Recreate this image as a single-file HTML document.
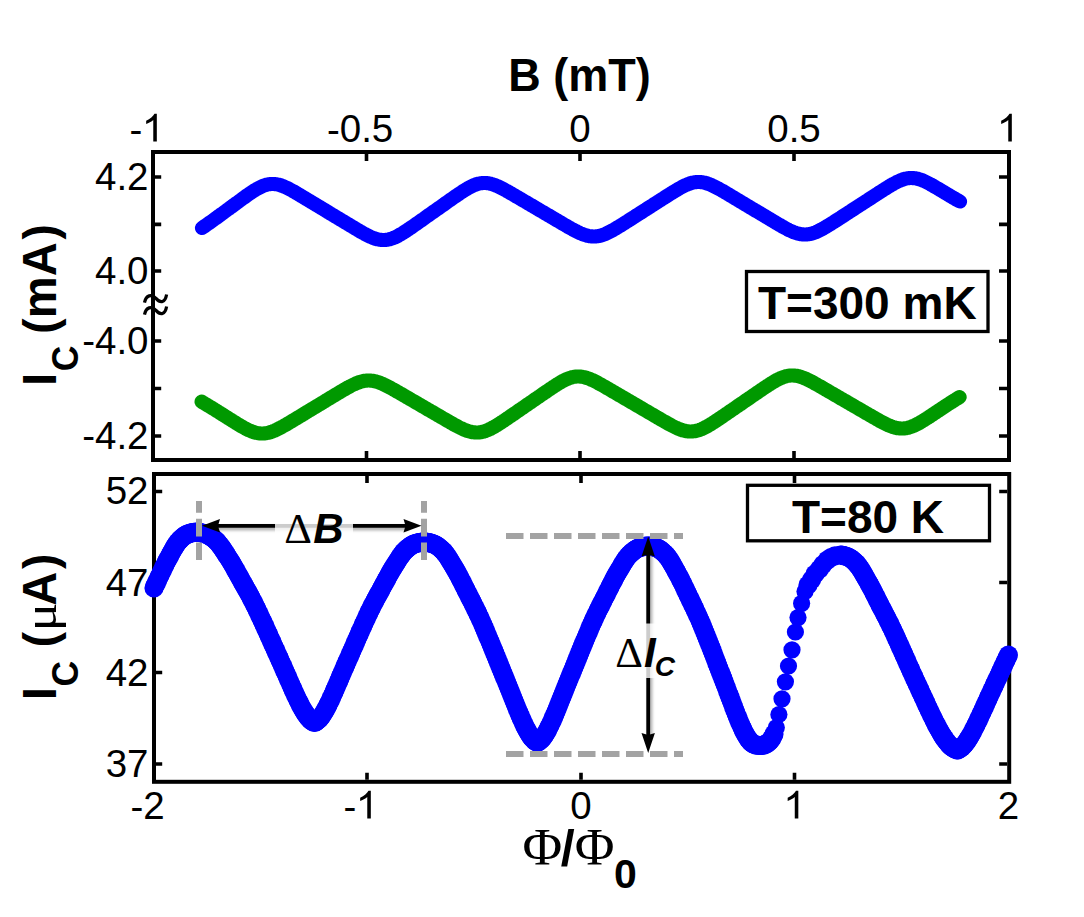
<!DOCTYPE html><html><head><meta charset="utf-8"><title>SQUID Ic</title>
<style>html,body{margin:0;padding:0;background:#fff}body{width:1084px;height:917px;overflow:hidden}svg{display:block}text{font-family:"Liberation Sans",sans-serif;fill:#000}.s{font-family:"Liberation Serif",serif}.b{font-weight:bold}.bi{font-weight:bold;font-style:italic}</style>
</head><body>
<svg width="1084" height="917" viewBox="0 0 1084 917">
<defs><filter id="sh" x="-20%" y="-50%" width="140%" height="200%"><feGaussianBlur stdDeviation="1.2"/></filter><filter id="sh2" filterUnits="userSpaceOnUse" x="180" y="510" width="270" height="40"><feGaussianBlur stdDeviation="1.5"/></filter><filter id="sh3" filterUnits="userSpaceOnUse" x="630" y="520" width="40" height="250"><feGaussianBlur stdDeviation="1.5"/></filter></defs>
<rect width="1084" height="917" fill="#fff"/>
<polyline points="202.0,228.0 203.0,227.3 204.0,226.6 205.0,225.9 206.0,225.2 207.0,224.5 208.0,223.8 209.0,223.1 210.0,222.4 211.0,221.7 212.0,221.0 213.0,220.3 214.0,219.5 215.0,218.8 216.0,218.1 217.0,217.4 218.0,216.6 219.0,215.9 220.0,215.2 221.0,214.4 222.0,213.7 223.0,213.0 224.0,212.2 225.0,211.5 226.0,210.8 227.0,210.0 228.0,209.3 229.0,208.6 230.0,207.8 231.0,207.1 232.0,206.4 233.0,205.6 234.0,204.9 235.0,204.2 236.0,203.4 237.0,202.7 238.0,202.0 239.0,201.2 240.0,200.5 241.0,199.8 242.0,199.0 243.0,198.3 244.0,197.6 245.0,196.9 246.0,196.1 247.0,195.4 248.0,194.7 249.0,194.0 250.0,193.3 251.0,192.7 252.0,192.0 253.0,191.3 254.0,190.7 255.0,190.1 256.0,189.5 257.0,188.9 258.0,188.3 259.0,187.8 260.0,187.3 261.0,186.8 262.0,186.3 263.0,185.9 264.0,185.5 265.0,185.2 266.0,184.9 267.0,184.6 268.0,184.4 269.0,184.2 270.0,184.1 271.0,184.0 272.0,184.0 273.0,184.0 274.0,184.0 275.0,184.1 276.0,184.2 277.0,184.4 278.0,184.6 279.0,184.8 280.0,185.1 281.0,185.4 282.0,185.8 283.0,186.2 284.0,186.6 285.0,187.0 286.0,187.5 287.0,187.9 288.0,188.4 289.0,188.9 290.0,189.5 291.0,190.0 292.0,190.5 293.0,191.1 294.0,191.7 295.0,192.2 296.0,192.8 297.0,193.4 298.0,194.0 299.0,194.6 300.0,195.2 301.0,195.8 302.0,196.4 303.0,197.0 304.0,197.6 305.0,198.2 306.0,198.8 307.0,199.4 308.0,200.0 309.0,200.6 310.0,201.2 311.0,201.8 312.0,202.4 313.0,203.0 314.0,203.6 315.0,204.2 316.0,204.8 317.0,205.4 318.0,206.0 319.0,206.6 320.0,207.2 321.0,207.8 322.0,208.4 323.0,209.0 324.0,209.6 325.0,210.2 326.0,210.8 327.0,211.4 328.0,212.1 329.0,212.7 330.0,213.3 331.0,213.9 332.0,214.5 333.0,215.1 334.0,215.7 335.0,216.3 336.0,216.9 337.0,217.5 338.0,218.1 339.0,218.7 340.0,219.3 341.0,219.9 342.0,220.5 343.0,221.1 344.0,221.7 345.0,222.3 346.0,222.9 347.0,223.5 348.0,224.1 349.0,224.7 350.0,225.3 351.0,225.9 352.0,226.5 353.0,227.1 354.0,227.7 355.0,228.3 356.0,228.9 357.0,229.5 358.0,230.1 359.0,230.7 360.0,231.3 361.0,231.9 362.0,232.4 363.0,233.0 364.0,233.5 365.0,234.1 366.0,234.6 367.0,235.1 368.0,235.6 369.0,236.1 370.0,236.6 371.0,237.0 372.0,237.5 373.0,237.9 374.0,238.2 375.0,238.6 376.0,238.9 377.0,239.2 378.0,239.4 379.0,239.6 380.0,239.8 381.0,239.9 382.0,240.0 383.0,240.0 384.0,240.0 385.0,240.0 386.0,239.9 387.0,239.8 388.0,239.6 389.0,239.4 390.0,239.1 391.0,238.8 392.0,238.5 393.0,238.1 394.0,237.7 395.0,237.3 396.0,236.8 397.0,236.3 398.0,235.8 399.0,235.2 400.0,234.7 401.0,234.1 402.0,233.5 403.0,232.9 404.0,232.2 405.0,231.6 406.0,230.9 407.0,230.3 408.0,229.6 409.0,228.9 410.0,228.2 411.0,227.6 412.0,226.9 413.0,226.2 414.0,225.5 415.0,224.8 416.0,224.1 417.0,223.4 418.0,222.7 419.0,222.0 420.0,221.3 421.0,220.6 422.0,219.9 423.0,219.2 424.0,218.5 425.0,217.7 426.0,217.0 427.0,216.3 428.0,215.6 429.0,214.9 430.0,214.2 431.0,213.5 432.0,212.8 433.0,212.1 434.0,211.4 435.0,210.7 436.0,210.0 437.0,209.3 438.0,208.6 439.0,207.9 440.0,207.2 441.0,206.5 442.0,205.8 443.0,205.1 444.0,204.4 445.0,203.6 446.0,202.9 447.0,202.2 448.0,201.5 449.0,200.8 450.0,200.1 451.0,199.4 452.0,198.7 453.0,198.0 454.0,197.3 455.0,196.6 456.0,195.9 457.0,195.3 458.0,194.6 459.0,193.9 460.0,193.2 461.0,192.5 462.0,191.9 463.0,191.2 464.0,190.6 465.0,190.0 466.0,189.4 467.0,188.8 468.0,188.2 469.0,187.6 470.0,187.1 471.0,186.6 472.0,186.1 473.0,185.6 474.0,185.2 475.0,184.8 476.0,184.4 477.0,184.1 478.0,183.8 479.0,183.6 480.0,183.4 481.0,183.2 482.0,183.1 483.0,183.0 484.0,183.0 485.0,183.0 486.0,183.0 487.0,183.1 488.0,183.2 489.0,183.4 490.0,183.6 491.0,183.9 492.0,184.1 493.0,184.5 494.0,184.8 495.0,185.2 496.0,185.6 497.0,186.0 498.0,186.4 499.0,186.9 500.0,187.4 501.0,187.9 502.0,188.4 503.0,188.9 504.0,189.4 505.0,190.0 506.0,190.5 507.0,191.1 508.0,191.6 509.0,192.2 510.0,192.8 511.0,193.4 512.0,193.9 513.0,194.5 514.0,195.1 515.0,195.7 516.0,196.3 517.0,196.8 518.0,197.4 519.0,198.0 520.0,198.6 521.0,199.2 522.0,199.8 523.0,200.4 524.0,201.0 525.0,201.5 526.0,202.1 527.0,202.7 528.0,203.3 529.0,203.9 530.0,204.5 531.0,205.1 532.0,205.7 533.0,206.2 534.0,206.8 535.0,207.4 536.0,208.0 537.0,208.6 538.0,209.2 539.0,209.8 540.0,210.4 541.0,211.0 542.0,211.5 543.0,212.1 544.0,212.7 545.0,213.3 546.0,213.9 547.0,214.5 548.0,215.1 549.0,215.7 550.0,216.2 551.0,216.8 552.0,217.4 553.0,218.0 554.0,218.6 555.0,219.2 556.0,219.8 557.0,220.4 558.0,220.9 559.0,221.5 560.0,222.1 561.0,222.7 562.0,223.3 563.0,223.9 564.0,224.5 565.0,225.0 566.0,225.6 567.0,226.2 568.0,226.8 569.0,227.3 570.0,227.9 571.0,228.5 572.0,229.0 573.0,229.6 574.0,230.1 575.0,230.6 576.0,231.2 577.0,231.7 578.0,232.1 579.0,232.6 580.0,233.1 581.0,233.5 582.0,233.9 583.0,234.3 584.0,234.7 585.0,235.0 586.0,235.3 587.0,235.6 588.0,235.9 589.0,236.1 590.0,236.2 591.0,236.4 592.0,236.4 593.0,236.5 594.0,236.5 595.0,236.5 596.0,236.4 597.0,236.3 598.0,236.1 599.0,236.0 600.0,235.7 601.0,235.5 602.0,235.2 603.0,234.8 604.0,234.5 605.0,234.1 606.0,233.7 607.0,233.2 608.0,232.7 609.0,232.2 610.0,231.7 611.0,231.2 612.0,230.7 613.0,230.1 614.0,229.5 615.0,228.9 616.0,228.3 617.0,227.7 618.0,227.1 619.0,226.5 620.0,225.9 621.0,225.3 622.0,224.7 623.0,224.0 624.0,223.4 625.0,222.8 626.0,222.1 627.0,221.5 628.0,220.9 629.0,220.2 630.0,219.6 631.0,218.9 632.0,218.3 633.0,217.7 634.0,217.0 635.0,216.4 636.0,215.7 637.0,215.1 638.0,214.5 639.0,213.8 640.0,213.2 641.0,212.6 642.0,211.9 643.0,211.3 644.0,210.6 645.0,210.0 646.0,209.4 647.0,208.7 648.0,208.1 649.0,207.4 650.0,206.8 651.0,206.2 652.0,205.5 653.0,204.9 654.0,204.2 655.0,203.6 656.0,203.0 657.0,202.3 658.0,201.7 659.0,201.0 660.0,200.4 661.0,199.8 662.0,199.1 663.0,198.5 664.0,197.9 665.0,197.2 666.0,196.6 667.0,195.9 668.0,195.3 669.0,194.7 670.0,194.0 671.0,193.4 672.0,192.8 673.0,192.2 674.0,191.6 675.0,191.0 676.0,190.4 677.0,189.8 678.0,189.2 679.0,188.6 680.0,188.0 681.0,187.5 682.0,186.9 683.0,186.4 684.0,185.9 685.0,185.4 686.0,185.0 687.0,184.6 688.0,184.2 689.0,183.8 690.0,183.4 691.0,183.1 692.0,182.8 693.0,182.6 694.0,182.4 695.0,182.2 696.0,182.1 697.0,182.0 698.0,182.0 699.0,182.0 700.0,182.0 701.0,182.1 702.0,182.2 703.0,182.4 704.0,182.6 705.0,182.8 706.0,183.1 707.0,183.4 708.0,183.8 709.0,184.1 710.0,184.5 711.0,184.9 712.0,185.4 713.0,185.8 714.0,186.3 715.0,186.8 716.0,187.3 717.0,187.8 718.0,188.4 719.0,188.9 720.0,189.5 721.0,190.0 722.0,190.6 723.0,191.2 724.0,191.7 725.0,192.3 726.0,192.9 727.0,193.5 728.0,194.1 729.0,194.7 730.0,195.3 731.0,195.9 732.0,196.5 733.0,197.1 734.0,197.7 735.0,198.3 736.0,198.9 737.0,199.5 738.0,200.1 739.0,200.7 740.0,201.3 741.0,201.9 742.0,202.5 743.0,203.1 744.0,203.7 745.0,204.3 746.0,204.9 747.0,205.5 748.0,206.1 749.0,206.7 750.0,207.3 751.0,207.9 752.0,208.5 753.0,209.1 754.0,209.7 755.0,210.3 756.0,210.9 757.0,211.4 758.0,212.0 759.0,212.6 760.0,213.2 761.0,213.8 762.0,214.4 763.0,215.0 764.0,215.6 765.0,216.2 766.0,216.8 767.0,217.4 768.0,218.0 769.0,218.6 770.0,219.2 771.0,219.8 772.0,220.4 773.0,221.0 774.0,221.6 775.0,222.2 776.0,222.8 777.0,223.4 778.0,224.0 779.0,224.6 780.0,225.2 781.0,225.7 782.0,226.3 783.0,226.9 784.0,227.4 785.0,228.0 786.0,228.5 787.0,229.0 788.0,229.6 789.0,230.1 790.0,230.5 791.0,231.0 792.0,231.4 793.0,231.9 794.0,232.3 795.0,232.6 796.0,233.0 797.0,233.3 798.0,233.6 799.0,233.8 800.0,234.0 801.0,234.2 802.0,234.4 803.0,234.4 804.0,234.5 805.0,234.5 806.0,234.5 807.0,234.4 808.0,234.3 809.0,234.1 810.0,234.0 811.0,233.7 812.0,233.5 813.0,233.2 814.0,232.8 815.0,232.5 816.0,232.1 817.0,231.6 818.0,231.2 819.0,230.7 820.0,230.2 821.0,229.7 822.0,229.1 823.0,228.6 824.0,228.0 825.0,227.4 826.0,226.8 827.0,226.2 828.0,225.6 829.0,225.0 830.0,224.4 831.0,223.8 832.0,223.1 833.0,222.5 834.0,221.9 835.0,221.2 836.0,220.6 837.0,219.9 838.0,219.3 839.0,218.7 840.0,218.0 841.0,217.4 842.0,216.7 843.0,216.1 844.0,215.4 845.0,214.8 846.0,214.1 847.0,213.5 848.0,212.8 849.0,212.2 850.0,211.5 851.0,210.9 852.0,210.2 853.0,209.6 854.0,208.9 855.0,208.3 856.0,207.6 857.0,207.0 858.0,206.3 859.0,205.7 860.0,205.0 861.0,204.4 862.0,203.8 863.0,203.1 864.0,202.5 865.0,201.8 866.0,201.2 867.0,200.5 868.0,199.9 869.0,199.2 870.0,198.6 871.0,197.9 872.0,197.3 873.0,196.6 874.0,196.0 875.0,195.3 876.0,194.7 877.0,194.0 878.0,193.4 879.0,192.7 880.0,192.1 881.0,191.5 882.0,190.8 883.0,190.2 884.0,189.5 885.0,188.9 886.0,188.3 887.0,187.7 888.0,187.0 889.0,186.4 890.0,185.8 891.0,185.2 892.0,184.6 893.0,184.1 894.0,183.5 895.0,183.0 896.0,182.5 897.0,181.9 898.0,181.5 899.0,181.0 900.0,180.6 901.0,180.2 902.0,179.8 903.0,179.4 904.0,179.1 905.0,178.8 906.0,178.6 907.0,178.4 908.0,178.2 909.0,178.1 910.0,178.0 911.0,178.0 912.0,178.0 913.0,178.1 914.0,178.1 915.0,178.3 916.0,178.4 917.0,178.6 918.0,178.9 919.0,179.2 920.0,179.5 921.0,179.8 922.0,180.2 923.0,180.6 924.0,181.0 925.0,181.5 926.0,182.0 927.0,182.5 928.0,183.0 929.0,183.5 930.0,184.0 931.0,184.6 932.0,185.1 933.0,185.7 934.0,186.3 935.0,186.9 936.0,187.5 937.0,188.0 938.0,188.6 939.0,189.2 940.0,189.8 941.0,190.4 942.0,191.0 943.0,191.6 944.0,192.2 945.0,192.8 946.0,193.4 947.0,194.0 948.0,194.6 949.0,195.2 950.0,195.8 951.0,196.4 952.0,197.0 953.0,197.6 954.0,198.1 955.0,198.7 956.0,199.3 957.0,199.8 958.0,200.4 959.0,201.0 960.0,201.5" fill="none" stroke="#0000ff" stroke-width="14.2" stroke-linecap="round" stroke-linejoin="round"/>
<polyline points="201.6,401.7 202.6,402.3 203.6,402.9 204.6,403.5 205.6,404.1 206.6,404.7 207.6,405.3 208.6,405.9 209.6,406.5 210.6,407.1 211.6,407.7 212.6,408.3 213.6,408.9 214.6,409.5 215.6,410.2 216.6,410.8 217.6,411.4 218.6,412.0 219.6,412.7 220.6,413.3 221.6,413.9 222.6,414.6 223.6,415.2 224.6,415.8 225.6,416.5 226.6,417.1 227.6,417.7 228.6,418.4 229.6,419.0 230.6,419.6 231.6,420.2 232.6,420.9 233.6,421.5 234.6,422.1 235.6,422.7 236.6,423.4 237.6,424.0 238.6,424.6 239.6,425.2 240.6,425.8 241.6,426.4 242.6,426.9 243.6,427.5 244.6,428.0 245.6,428.6 246.6,429.1 247.6,429.6 248.6,430.1 249.6,430.5 250.6,430.9 251.6,431.4 252.6,431.7 253.6,432.1 254.6,432.4 255.6,432.7 256.6,432.9 257.6,433.1 258.6,433.3 259.6,433.4 260.6,433.5 261.6,433.5 262.6,433.5 263.6,433.5 264.6,433.4 265.6,433.3 266.6,433.1 267.6,432.9 268.6,432.7 269.6,432.4 270.6,432.1 271.6,431.7 272.6,431.4 273.6,431.0 274.6,430.6 275.6,430.1 276.6,429.7 277.6,429.2 278.6,428.7 279.6,428.2 280.6,427.6 281.6,427.1 282.6,426.5 283.6,426.0 284.6,425.4 285.6,424.8 286.6,424.3 287.6,423.7 288.6,423.1 289.6,422.5 290.6,421.9 291.6,421.3 292.6,420.7 293.6,420.1 294.6,419.5 295.6,418.9 296.6,418.3 297.6,417.7 298.6,417.1 299.6,416.5 300.6,415.9 301.6,415.3 302.6,414.7 303.6,414.1 304.6,413.4 305.6,412.8 306.6,412.2 307.6,411.6 308.6,411.0 309.6,410.4 310.6,409.8 311.6,409.2 312.6,408.6 313.6,408.0 314.6,407.4 315.6,406.8 316.6,406.2 317.6,405.6 318.6,405.0 319.6,404.4 320.6,403.8 321.6,403.2 322.6,402.6 323.6,402.0 324.6,401.4 325.6,400.7 326.6,400.1 327.6,399.5 328.6,398.9 329.6,398.3 330.6,397.7 331.6,397.1 332.6,396.5 333.6,395.9 334.6,395.3 335.6,394.7 336.6,394.1 337.6,393.5 338.6,392.9 339.6,392.3 340.6,391.7 341.6,391.1 342.6,390.5 343.6,389.9 344.6,389.4 345.6,388.8 346.6,388.2 347.6,387.7 348.6,387.1 349.6,386.6 350.6,386.0 351.6,385.5 352.6,385.0 353.6,384.5 354.6,384.1 355.6,383.6 356.6,383.2 357.6,382.8 358.6,382.4 359.6,382.1 360.6,381.8 361.6,381.5 362.6,381.2 363.6,381.0 364.6,380.8 365.6,380.7 366.6,380.6 367.6,380.5 368.6,380.5 369.6,380.5 370.6,380.6 371.6,380.7 372.6,380.8 373.6,381.0 374.6,381.2 375.6,381.4 376.6,381.7 377.6,382.0 378.6,382.3 379.6,382.7 380.6,383.1 381.6,383.5 382.6,383.9 383.6,384.4 384.6,384.8 385.6,385.3 386.6,385.8 387.6,386.3 388.6,386.8 389.6,387.4 390.6,387.9 391.6,388.5 392.6,389.0 393.6,389.6 394.6,390.1 395.6,390.7 396.6,391.3 397.6,391.8 398.6,392.4 399.6,393.0 400.6,393.6 401.6,394.2 402.6,394.7 403.6,395.3 404.6,395.9 405.6,396.5 406.6,397.1 407.6,397.6 408.6,398.2 409.6,398.8 410.6,399.4 411.6,400.0 412.6,400.5 413.6,401.1 414.6,401.7 415.6,402.3 416.6,402.9 417.6,403.4 418.6,404.0 419.6,404.6 420.6,405.2 421.6,405.8 422.6,406.4 423.6,406.9 424.6,407.5 425.6,408.1 426.6,408.7 427.6,409.3 428.6,409.8 429.6,410.4 430.6,411.0 431.6,411.6 432.6,412.2 433.6,412.7 434.6,413.3 435.6,413.9 436.6,414.5 437.6,415.1 438.6,415.6 439.6,416.2 440.6,416.8 441.6,417.4 442.6,418.0 443.6,418.5 444.6,419.1 445.6,419.7 446.6,420.3 447.6,420.9 448.6,421.4 449.6,422.0 450.6,422.6 451.6,423.1 452.6,423.7 453.6,424.3 454.6,424.8 455.6,425.4 456.6,425.9 457.6,426.4 458.6,427.0 459.6,427.5 460.6,428.0 461.6,428.4 462.6,428.9 463.6,429.4 464.6,429.8 465.6,430.2 466.6,430.6 467.6,430.9 468.6,431.2 469.6,431.5 470.6,431.8 471.6,432.0 472.6,432.2 473.6,432.3 474.6,432.4 475.6,432.5 476.6,432.5 477.6,432.5 478.6,432.5 479.6,432.4 480.6,432.2 481.6,432.0 482.6,431.8 483.6,431.6 484.6,431.3 485.6,430.9 486.6,430.5 487.6,430.1 488.6,429.7 489.6,429.2 490.6,428.8 491.6,428.2 492.6,427.7 493.6,427.1 494.6,426.6 495.6,426.0 496.6,425.4 497.6,424.8 498.6,424.1 499.6,423.5 500.6,422.8 501.6,422.2 502.6,421.5 503.6,420.9 504.6,420.2 505.6,419.5 506.6,418.8 507.6,418.2 508.6,417.5 509.6,416.8 510.6,416.1 511.6,415.4 512.6,414.7 513.6,414.1 514.6,413.4 515.6,412.7 516.6,412.0 517.6,411.3 518.6,410.6 519.6,409.9 520.6,409.2 521.6,408.5 522.6,407.9 523.6,407.2 524.6,406.5 525.6,405.8 526.6,405.1 527.6,404.4 528.6,403.7 529.6,403.0 530.6,402.4 531.6,401.7 532.6,401.0 533.6,400.3 534.6,399.6 535.6,398.9 536.6,398.2 537.6,397.5 538.6,396.9 539.6,396.2 540.6,395.5 541.6,394.8 542.6,394.1 543.6,393.4 544.6,392.7 545.6,392.1 546.6,391.4 547.6,390.7 548.6,390.0 549.6,389.3 550.6,388.7 551.6,388.0 552.6,387.3 553.6,386.7 554.6,386.0 555.6,385.4 556.6,384.7 557.6,384.1 558.6,383.5 559.6,382.9 560.6,382.3 561.6,381.7 562.6,381.2 563.6,380.6 564.6,380.1 565.6,379.6 566.6,379.2 567.6,378.8 568.6,378.4 569.6,378.0 570.6,377.7 571.6,377.4 572.6,377.1 573.6,376.9 574.6,376.7 575.6,376.6 576.6,376.5 577.6,376.5 578.6,376.5 579.6,376.5 580.6,376.6 581.6,376.7 582.6,376.9 583.6,377.1 584.6,377.3 585.6,377.6 586.6,377.9 587.6,378.2 588.6,378.5 589.6,378.9 590.6,379.3 591.6,379.8 592.6,380.2 593.6,380.7 594.6,381.2 595.6,381.7 596.6,382.2 597.6,382.7 598.6,383.3 599.6,383.8 600.6,384.4 601.6,384.9 602.6,385.5 603.6,386.0 604.6,386.6 605.6,387.2 606.6,387.8 607.6,388.3 608.6,388.9 609.6,389.5 610.6,390.1 611.6,390.7 612.6,391.3 613.6,391.8 614.6,392.4 615.6,393.0 616.6,393.6 617.6,394.2 618.6,394.8 619.6,395.3 620.6,395.9 621.6,396.5 622.6,397.1 623.6,397.7 624.6,398.3 625.6,398.9 626.6,399.4 627.6,400.0 628.6,400.6 629.6,401.2 630.6,401.8 631.6,402.4 632.6,402.9 633.6,403.5 634.6,404.1 635.6,404.7 636.6,405.3 637.6,405.9 638.6,406.4 639.6,407.0 640.6,407.6 641.6,408.2 642.6,408.8 643.6,409.4 644.6,410.0 645.6,410.5 646.6,411.1 647.6,411.7 648.6,412.3 649.6,412.9 650.6,413.5 651.6,414.0 652.6,414.6 653.6,415.2 654.6,415.8 655.6,416.4 656.6,417.0 657.6,417.6 658.6,418.1 659.6,418.7 660.6,419.3 661.6,419.9 662.6,420.5 663.6,421.0 664.6,421.6 665.6,422.2 666.6,422.7 667.6,423.3 668.6,423.9 669.6,424.4 670.6,424.9 671.6,425.5 672.6,426.0 673.6,426.5 674.6,427.0 675.6,427.5 676.6,427.9 677.6,428.4 678.6,428.8 679.6,429.2 680.6,429.6 681.6,429.9 682.6,430.3 683.6,430.5 684.6,430.8 685.6,431.0 686.6,431.2 687.6,431.3 688.6,431.5 689.6,431.5 690.6,431.5 691.6,431.5 692.6,431.4 693.6,431.3 694.6,431.2 695.6,431.0 696.6,430.8 697.6,430.5 698.6,430.2 699.6,429.9 700.6,429.5 701.6,429.1 702.6,428.6 703.6,428.2 704.6,427.7 705.6,427.2 706.6,426.6 707.6,426.1 708.6,425.5 709.6,424.9 710.6,424.3 711.6,423.7 712.6,423.0 713.6,422.4 714.6,421.8 715.6,421.1 716.6,420.4 717.6,419.8 718.6,419.1 719.6,418.4 720.6,417.8 721.6,417.1 722.6,416.4 723.6,415.7 724.6,415.0 725.6,414.3 726.6,413.7 727.6,413.0 728.6,412.3 729.6,411.6 730.6,410.9 731.6,410.2 732.6,409.5 733.6,408.9 734.6,408.2 735.6,407.5 736.6,406.8 737.6,406.1 738.6,405.4 739.6,404.7 740.6,404.1 741.6,403.4 742.6,402.7 743.6,402.0 744.6,401.3 745.6,400.6 746.6,399.9 747.6,399.3 748.6,398.6 749.6,397.9 750.6,397.2 751.6,396.5 752.6,395.8 753.6,395.1 754.6,394.5 755.6,393.8 756.6,393.1 757.6,392.4 758.6,391.7 759.6,391.0 760.6,390.3 761.6,389.7 762.6,389.0 763.6,388.3 764.6,387.6 765.6,387.0 766.6,386.3 767.6,385.7 768.6,385.0 769.6,384.4 770.6,383.7 771.6,383.1 772.6,382.5 773.6,381.9 774.6,381.3 775.6,380.7 776.6,380.2 777.6,379.6 778.6,379.1 779.6,378.7 780.6,378.2 781.6,377.8 782.6,377.4 783.6,377.0 784.6,376.7 785.6,376.4 786.6,376.1 787.6,375.9 788.6,375.7 789.6,375.6 790.6,375.5 791.6,375.5 792.6,375.5 793.6,375.5 794.6,375.6 795.6,375.7 796.6,375.8 797.6,376.0 798.6,376.3 799.6,376.5 800.6,376.8 801.6,377.2 802.6,377.5 803.6,377.9 804.6,378.3 805.6,378.7 806.6,379.2 807.6,379.7 808.6,380.1 809.6,380.6 810.6,381.1 811.6,381.7 812.6,382.2 813.6,382.7 814.6,383.3 815.6,383.8 816.6,384.4 817.6,385.0 818.6,385.5 819.6,386.1 820.6,386.7 821.6,387.2 822.6,387.8 823.6,388.4 824.6,389.0 825.6,389.6 826.6,390.1 827.6,390.7 828.6,391.3 829.6,391.9 830.6,392.5 831.6,393.0 832.6,393.6 833.6,394.2 834.6,394.8 835.6,395.4 836.6,395.9 837.6,396.5 838.6,397.1 839.6,397.7 840.6,398.3 841.6,398.8 842.6,399.4 843.6,400.0 844.6,400.6 845.6,401.2 846.6,401.7 847.6,402.3 848.6,402.9 849.6,403.5 850.6,404.1 851.6,404.6 852.6,405.2 853.6,405.8 854.6,406.4 855.6,407.0 856.6,407.5 857.6,408.1 858.6,408.7 859.6,409.3 860.6,409.9 861.6,410.4 862.6,411.0 863.6,411.6 864.6,412.2 865.6,412.8 866.6,413.3 867.6,413.9 868.6,414.5 869.6,415.1 870.6,415.7 871.6,416.2 872.6,416.8 873.6,417.4 874.6,417.9 875.6,418.5 876.6,419.1 877.6,419.6 878.6,420.2 879.6,420.8 880.6,421.3 881.6,421.8 882.6,422.4 883.6,422.9 884.6,423.4 885.6,423.9 886.6,424.4 887.6,424.8 888.6,425.3 889.6,425.7 890.6,426.1 891.6,426.5 892.6,426.9 893.6,427.2 894.6,427.5 895.6,427.7 896.6,428.0 897.6,428.2 898.6,428.3 899.6,428.4 900.6,428.5 901.6,428.5 902.6,428.5 903.6,428.5 904.6,428.4 905.6,428.2 906.6,428.1 907.6,427.9 908.6,427.6 909.6,427.3 910.6,427.0 911.6,426.6 912.6,426.2 913.6,425.8 914.6,425.4 915.6,424.9 916.6,424.4 917.6,423.9 918.6,423.3 919.6,422.8 920.6,422.2 921.6,421.6 922.6,421.0 923.6,420.4 924.6,419.8 925.6,419.1 926.6,418.5 927.6,417.9 928.6,417.2 929.6,416.6 930.6,415.9 931.6,415.2 932.6,414.6 933.6,413.9 934.6,413.2 935.6,412.6 936.6,411.9 937.6,411.2 938.6,410.6 939.6,409.9 940.6,409.3 941.6,408.6 942.6,407.9 943.6,407.3 944.6,406.6 945.6,405.9 946.6,405.3 947.6,404.6 948.6,404.0 949.6,403.3 950.6,402.7 951.6,402.1 952.6,401.4 953.6,400.8 954.6,400.2 955.6,399.5 956.6,398.9 957.6,398.3 958.6,397.7 959.6,397.1" fill="none" stroke="#009900" stroke-width="14.2" stroke-linecap="round" stroke-linejoin="round"/>
<rect x="153" y="152" width="856" height="308" fill="none" stroke="#000" stroke-width="4"/>
<path d="M366.5 154 v7 M366.5 458 v-7 M580 154 v7 M580 458 v-7 M794 154 v7 M794 458 v-7 M155 177 h6.2 M1007 177 h-8 M155 224.4 h6.2 M1007 224.4 h-8 M155 271 h6.2 M1007 271 h-8 M155 341 h6.2 M1007 341 h-8 M155 388.5 h6.2 M1007 388.5 h-8 M155 436 h6.2 M1007 436 h-8 M367 476 v7 M367 779.8 v-7 M581 476 v7 M581 779.8 v-7 M794.5 476 v7 M794.5 779.8 v-7 M156 491.5 h6.2 M1007.2 491.5 h-8 M156 582.5 h6.2 M1007.2 582.5 h-8 M156 672.5 h6.2 M1007.2 672.5 h-8 M156 764 h6.2 M1007.2 764 h-8" stroke="#000" stroke-width="3.6" fill="none"/>
<rect x="154" y="474" width="855.2" height="307.8" fill="none" stroke="#000" stroke-width="4"/>
<g fill="#0000ff">
<circle cx="154.0" cy="588.0" r="9.6"/>
<circle cx="155.2" cy="585.4" r="9.6"/>
<circle cx="156.4" cy="582.9" r="9.6"/>
<circle cx="157.6" cy="580.4" r="9.6"/>
<circle cx="158.8" cy="577.8" r="9.6"/>
<circle cx="160.0" cy="575.3" r="9.6"/>
<circle cx="161.2" cy="572.7" r="9.6"/>
<circle cx="162.4" cy="570.2" r="9.6"/>
<circle cx="163.6" cy="567.6" r="9.6"/>
<circle cx="164.8" cy="565.2" r="9.6"/>
<circle cx="166.0" cy="562.7" r="9.6"/>
<circle cx="167.2" cy="560.4" r="9.6"/>
<circle cx="168.4" cy="558.2" r="9.6"/>
<circle cx="169.6" cy="556.0" r="9.6"/>
<circle cx="170.8" cy="553.8" r="9.6"/>
<circle cx="172.0" cy="551.6" r="9.6"/>
<circle cx="173.2" cy="549.5" r="9.6"/>
<circle cx="174.4" cy="547.4" r="9.6"/>
<circle cx="175.6" cy="545.4" r="9.6"/>
<circle cx="176.8" cy="543.6" r="9.6"/>
<circle cx="178.0" cy="542.0" r="9.6"/>
<circle cx="179.2" cy="540.6" r="9.6"/>
<circle cx="180.4" cy="539.4" r="9.6"/>
<circle cx="181.6" cy="538.2" r="9.6"/>
<circle cx="182.8" cy="537.2" r="9.6"/>
<circle cx="184.0" cy="536.2" r="9.6"/>
<circle cx="185.2" cy="535.3" r="9.6"/>
<circle cx="186.4" cy="534.6" r="9.6"/>
<circle cx="187.6" cy="534.1" r="9.6"/>
<circle cx="188.8" cy="533.6" r="9.6"/>
<circle cx="190.0" cy="533.3" r="9.6"/>
<circle cx="191.2" cy="532.9" r="9.6"/>
<circle cx="192.4" cy="532.6" r="9.6"/>
<circle cx="193.6" cy="532.4" r="9.6"/>
<circle cx="194.8" cy="532.3" r="9.6"/>
<circle cx="196.0" cy="532.2" r="9.6"/>
<circle cx="197.2" cy="532.2" r="9.6"/>
<circle cx="198.4" cy="532.3" r="9.6"/>
<circle cx="199.6" cy="532.5" r="9.6"/>
<circle cx="200.8" cy="532.7" r="9.6"/>
<circle cx="202.0" cy="533.0" r="9.6"/>
<circle cx="203.2" cy="533.3" r="9.6"/>
<circle cx="204.4" cy="533.6" r="9.6"/>
<circle cx="205.6" cy="533.9" r="9.6"/>
<circle cx="206.8" cy="534.4" r="9.6"/>
<circle cx="208.0" cy="534.9" r="9.6"/>
<circle cx="209.2" cy="535.6" r="9.6"/>
<circle cx="210.4" cy="536.3" r="9.6"/>
<circle cx="211.6" cy="537.1" r="9.6"/>
<circle cx="212.8" cy="538.0" r="9.6"/>
<circle cx="214.0" cy="539.0" r="9.6"/>
<circle cx="215.2" cy="540.0" r="9.6"/>
<circle cx="216.4" cy="541.1" r="9.6"/>
<circle cx="217.6" cy="542.3" r="9.6"/>
<circle cx="218.8" cy="543.7" r="9.6"/>
<circle cx="220.0" cy="545.2" r="9.6"/>
<circle cx="221.2" cy="546.9" r="9.6"/>
<circle cx="222.4" cy="548.6" r="9.6"/>
<circle cx="223.6" cy="550.4" r="9.6"/>
<circle cx="224.8" cy="552.2" r="9.6"/>
<circle cx="226.0" cy="554.1" r="9.6"/>
<circle cx="227.2" cy="556.0" r="9.6"/>
<circle cx="228.4" cy="557.8" r="9.6"/>
<circle cx="229.6" cy="559.7" r="9.6"/>
<circle cx="230.8" cy="561.6" r="9.6"/>
<circle cx="232.0" cy="563.6" r="9.6"/>
<circle cx="233.2" cy="565.7" r="9.6"/>
<circle cx="234.4" cy="567.8" r="9.6"/>
<circle cx="235.6" cy="569.9" r="9.6"/>
<circle cx="236.8" cy="572.0" r="9.6"/>
<circle cx="238.0" cy="574.2" r="9.6"/>
<circle cx="239.2" cy="576.4" r="9.6"/>
<circle cx="240.4" cy="578.6" r="9.6"/>
<circle cx="241.6" cy="580.7" r="9.6"/>
<circle cx="242.8" cy="582.9" r="9.6"/>
<circle cx="244.0" cy="585.0" r="9.6"/>
<circle cx="245.2" cy="587.1" r="9.6"/>
<circle cx="246.4" cy="589.3" r="9.6"/>
<circle cx="247.6" cy="591.4" r="9.6"/>
<circle cx="248.8" cy="593.6" r="9.6"/>
<circle cx="250.0" cy="595.8" r="9.6"/>
<circle cx="251.2" cy="598.1" r="9.6"/>
<circle cx="252.4" cy="600.4" r="9.6"/>
<circle cx="253.6" cy="602.7" r="9.6"/>
<circle cx="254.8" cy="605.1" r="9.6"/>
<circle cx="256.0" cy="607.5" r="9.6"/>
<circle cx="257.2" cy="610.0" r="9.6"/>
<circle cx="258.4" cy="612.5" r="9.6"/>
<circle cx="259.6" cy="615.1" r="9.6"/>
<circle cx="260.8" cy="617.7" r="9.6"/>
<circle cx="262.0" cy="620.2" r="9.6"/>
<circle cx="263.2" cy="622.8" r="9.6"/>
<circle cx="264.4" cy="625.4" r="9.6"/>
<circle cx="265.6" cy="628.1" r="9.6"/>
<circle cx="266.8" cy="630.7" r="9.6"/>
<circle cx="268.0" cy="633.4" r="9.6"/>
<circle cx="269.2" cy="636.1" r="9.6"/>
<circle cx="270.4" cy="638.7" r="9.6"/>
<circle cx="271.6" cy="641.4" r="9.6"/>
<circle cx="272.8" cy="644.1" r="9.6"/>
<circle cx="274.0" cy="646.8" r="9.6"/>
<circle cx="275.2" cy="649.4" r="9.6"/>
<circle cx="276.4" cy="652.1" r="9.6"/>
<circle cx="277.6" cy="654.7" r="9.6"/>
<circle cx="278.8" cy="657.4" r="9.6"/>
<circle cx="280.0" cy="660.1" r="9.6"/>
<circle cx="281.2" cy="662.8" r="9.6"/>
<circle cx="282.4" cy="665.4" r="9.6"/>
<circle cx="283.6" cy="668.1" r="9.6"/>
<circle cx="284.8" cy="670.9" r="9.6"/>
<circle cx="286.0" cy="673.6" r="9.6"/>
<circle cx="287.2" cy="676.3" r="9.6"/>
<circle cx="288.4" cy="679.1" r="9.6"/>
<circle cx="289.6" cy="681.8" r="9.6"/>
<circle cx="290.8" cy="684.5" r="9.6"/>
<circle cx="292.0" cy="687.2" r="9.6"/>
<circle cx="293.2" cy="689.9" r="9.6"/>
<circle cx="294.4" cy="692.5" r="9.6"/>
<circle cx="295.6" cy="695.2" r="9.6"/>
<circle cx="296.8" cy="697.7" r="9.6"/>
<circle cx="298.0" cy="700.2" r="9.6"/>
<circle cx="299.2" cy="702.6" r="9.6"/>
<circle cx="300.4" cy="705.0" r="9.6"/>
<circle cx="301.6" cy="707.3" r="9.6"/>
<circle cx="302.8" cy="709.5" r="9.6"/>
<circle cx="304.0" cy="711.4" r="9.6"/>
<circle cx="305.2" cy="713.3" r="9.6"/>
<circle cx="306.4" cy="715.1" r="9.6"/>
<circle cx="307.6" cy="716.7" r="9.6"/>
<circle cx="308.8" cy="718.2" r="9.6"/>
<circle cx="310.0" cy="719.4" r="9.6"/>
<circle cx="311.2" cy="720.4" r="9.6"/>
<circle cx="312.4" cy="721.4" r="9.6"/>
<circle cx="313.6" cy="722.1" r="9.6"/>
<circle cx="314.8" cy="722.5" r="9.6"/>
<circle cx="316.0" cy="721.7" r="9.6"/>
<circle cx="317.2" cy="720.8" r="9.6"/>
<circle cx="318.4" cy="719.8" r="9.6"/>
<circle cx="319.6" cy="718.6" r="9.6"/>
<circle cx="320.8" cy="717.1" r="9.6"/>
<circle cx="322.0" cy="715.5" r="9.6"/>
<circle cx="323.2" cy="713.6" r="9.6"/>
<circle cx="324.4" cy="711.7" r="9.6"/>
<circle cx="325.6" cy="709.6" r="9.6"/>
<circle cx="326.8" cy="707.4" r="9.6"/>
<circle cx="328.0" cy="704.9" r="9.6"/>
<circle cx="329.2" cy="702.5" r="9.6"/>
<circle cx="330.4" cy="700.0" r="9.6"/>
<circle cx="331.6" cy="697.4" r="9.6"/>
<circle cx="332.8" cy="694.7" r="9.6"/>
<circle cx="334.0" cy="692.0" r="9.6"/>
<circle cx="335.2" cy="689.2" r="9.6"/>
<circle cx="336.4" cy="686.5" r="9.6"/>
<circle cx="337.6" cy="683.7" r="9.6"/>
<circle cx="338.8" cy="680.9" r="9.6"/>
<circle cx="340.0" cy="678.1" r="9.6"/>
<circle cx="341.2" cy="675.3" r="9.6"/>
<circle cx="342.4" cy="672.5" r="9.6"/>
<circle cx="343.6" cy="669.7" r="9.6"/>
<circle cx="344.8" cy="666.9" r="9.6"/>
<circle cx="346.0" cy="664.2" r="9.6"/>
<circle cx="347.2" cy="661.4" r="9.6"/>
<circle cx="348.4" cy="658.7" r="9.6"/>
<circle cx="349.6" cy="656.0" r="9.6"/>
<circle cx="350.8" cy="653.2" r="9.6"/>
<circle cx="352.0" cy="650.5" r="9.6"/>
<circle cx="353.2" cy="647.8" r="9.6"/>
<circle cx="354.4" cy="645.0" r="9.6"/>
<circle cx="355.6" cy="642.2" r="9.6"/>
<circle cx="356.8" cy="639.5" r="9.6"/>
<circle cx="358.0" cy="636.8" r="9.6"/>
<circle cx="359.2" cy="634.0" r="9.6"/>
<circle cx="360.4" cy="631.3" r="9.6"/>
<circle cx="361.6" cy="628.7" r="9.6"/>
<circle cx="362.8" cy="626.0" r="9.6"/>
<circle cx="364.0" cy="623.3" r="9.6"/>
<circle cx="365.2" cy="620.7" r="9.6"/>
<circle cx="366.4" cy="618.0" r="9.6"/>
<circle cx="367.6" cy="615.5" r="9.6"/>
<circle cx="368.8" cy="612.9" r="9.6"/>
<circle cx="370.0" cy="610.4" r="9.6"/>
<circle cx="371.2" cy="608.0" r="9.6"/>
<circle cx="372.4" cy="605.6" r="9.6"/>
<circle cx="373.6" cy="603.3" r="9.6"/>
<circle cx="374.8" cy="601.0" r="9.6"/>
<circle cx="376.0" cy="598.8" r="9.6"/>
<circle cx="377.2" cy="596.6" r="9.6"/>
<circle cx="378.4" cy="594.4" r="9.6"/>
<circle cx="379.6" cy="592.2" r="9.6"/>
<circle cx="380.8" cy="590.0" r="9.6"/>
<circle cx="382.0" cy="587.8" r="9.6"/>
<circle cx="383.2" cy="585.5" r="9.6"/>
<circle cx="384.4" cy="583.3" r="9.6"/>
<circle cx="385.6" cy="581.1" r="9.6"/>
<circle cx="386.8" cy="578.9" r="9.6"/>
<circle cx="388.0" cy="576.7" r="9.6"/>
<circle cx="389.2" cy="574.5" r="9.6"/>
<circle cx="390.4" cy="572.4" r="9.6"/>
<circle cx="391.6" cy="570.3" r="9.6"/>
<circle cx="392.8" cy="568.3" r="9.6"/>
<circle cx="394.0" cy="566.4" r="9.6"/>
<circle cx="395.2" cy="564.5" r="9.6"/>
<circle cx="396.4" cy="562.6" r="9.6"/>
<circle cx="397.6" cy="560.7" r="9.6"/>
<circle cx="398.8" cy="558.8" r="9.6"/>
<circle cx="400.0" cy="557.0" r="9.6"/>
<circle cx="401.2" cy="555.2" r="9.6"/>
<circle cx="402.4" cy="553.6" r="9.6"/>
<circle cx="403.6" cy="552.1" r="9.6"/>
<circle cx="404.8" cy="550.8" r="9.6"/>
<circle cx="406.0" cy="549.6" r="9.6"/>
<circle cx="407.2" cy="548.6" r="9.6"/>
<circle cx="408.4" cy="547.6" r="9.6"/>
<circle cx="409.6" cy="546.7" r="9.6"/>
<circle cx="410.8" cy="545.8" r="9.6"/>
<circle cx="412.0" cy="545.1" r="9.6"/>
<circle cx="413.2" cy="544.4" r="9.6"/>
<circle cx="414.4" cy="543.9" r="9.6"/>
<circle cx="415.6" cy="543.5" r="9.6"/>
<circle cx="416.8" cy="543.2" r="9.6"/>
<circle cx="418.0" cy="542.9" r="9.6"/>
<circle cx="419.2" cy="542.6" r="9.6"/>
<circle cx="420.4" cy="542.3" r="9.6"/>
<circle cx="421.6" cy="542.2" r="9.6"/>
<circle cx="422.8" cy="542.0" r="9.6"/>
<circle cx="424.0" cy="542.0" r="9.6"/>
<circle cx="425.2" cy="542.0" r="9.6"/>
<circle cx="426.4" cy="542.2" r="9.6"/>
<circle cx="427.6" cy="542.4" r="9.6"/>
<circle cx="428.8" cy="542.6" r="9.6"/>
<circle cx="430.0" cy="542.9" r="9.6"/>
<circle cx="431.2" cy="543.2" r="9.6"/>
<circle cx="432.4" cy="543.6" r="9.6"/>
<circle cx="433.6" cy="544.0" r="9.6"/>
<circle cx="434.8" cy="544.5" r="9.6"/>
<circle cx="436.0" cy="545.2" r="9.6"/>
<circle cx="437.2" cy="545.9" r="9.6"/>
<circle cx="438.4" cy="546.8" r="9.6"/>
<circle cx="439.6" cy="547.8" r="9.6"/>
<circle cx="440.8" cy="548.8" r="9.6"/>
<circle cx="442.0" cy="549.9" r="9.6"/>
<circle cx="443.2" cy="551.0" r="9.6"/>
<circle cx="444.4" cy="552.4" r="9.6"/>
<circle cx="445.6" cy="553.9" r="9.6"/>
<circle cx="446.8" cy="555.5" r="9.6"/>
<circle cx="448.0" cy="557.3" r="9.6"/>
<circle cx="449.2" cy="559.2" r="9.6"/>
<circle cx="450.4" cy="561.2" r="9.6"/>
<circle cx="451.6" cy="563.2" r="9.6"/>
<circle cx="452.8" cy="565.2" r="9.6"/>
<circle cx="454.0" cy="567.3" r="9.6"/>
<circle cx="455.2" cy="569.3" r="9.6"/>
<circle cx="456.4" cy="571.4" r="9.6"/>
<circle cx="457.6" cy="573.6" r="9.6"/>
<circle cx="458.8" cy="575.8" r="9.6"/>
<circle cx="460.0" cy="578.1" r="9.6"/>
<circle cx="461.2" cy="580.4" r="9.6"/>
<circle cx="462.4" cy="582.7" r="9.6"/>
<circle cx="463.6" cy="585.1" r="9.6"/>
<circle cx="464.8" cy="587.5" r="9.6"/>
<circle cx="466.0" cy="589.9" r="9.6"/>
<circle cx="467.2" cy="592.3" r="9.6"/>
<circle cx="468.4" cy="594.7" r="9.6"/>
<circle cx="469.6" cy="597.0" r="9.6"/>
<circle cx="470.8" cy="599.4" r="9.6"/>
<circle cx="472.0" cy="601.7" r="9.6"/>
<circle cx="473.2" cy="604.1" r="9.6"/>
<circle cx="474.4" cy="606.5" r="9.6"/>
<circle cx="475.6" cy="609.0" r="9.6"/>
<circle cx="476.8" cy="611.4" r="9.6"/>
<circle cx="478.0" cy="613.9" r="9.6"/>
<circle cx="479.2" cy="616.5" r="9.6"/>
<circle cx="480.4" cy="619.1" r="9.6"/>
<circle cx="481.6" cy="621.8" r="9.6"/>
<circle cx="482.8" cy="624.6" r="9.6"/>
<circle cx="484.0" cy="627.4" r="9.6"/>
<circle cx="485.2" cy="630.2" r="9.6"/>
<circle cx="486.4" cy="633.0" r="9.6"/>
<circle cx="487.6" cy="635.9" r="9.6"/>
<circle cx="488.8" cy="638.8" r="9.6"/>
<circle cx="490.0" cy="641.6" r="9.6"/>
<circle cx="491.2" cy="644.5" r="9.6"/>
<circle cx="492.4" cy="647.5" r="9.6"/>
<circle cx="493.6" cy="650.4" r="9.6"/>
<circle cx="494.8" cy="653.4" r="9.6"/>
<circle cx="496.0" cy="656.3" r="9.6"/>
<circle cx="497.2" cy="659.3" r="9.6"/>
<circle cx="498.4" cy="662.2" r="9.6"/>
<circle cx="499.6" cy="665.1" r="9.6"/>
<circle cx="500.8" cy="668.1" r="9.6"/>
<circle cx="502.0" cy="671.0" r="9.6"/>
<circle cx="503.2" cy="673.9" r="9.6"/>
<circle cx="504.4" cy="676.9" r="9.6"/>
<circle cx="505.6" cy="679.8" r="9.6"/>
<circle cx="506.8" cy="682.8" r="9.6"/>
<circle cx="508.0" cy="685.7" r="9.6"/>
<circle cx="509.2" cy="688.8" r="9.6"/>
<circle cx="510.4" cy="691.8" r="9.6"/>
<circle cx="511.6" cy="694.8" r="9.6"/>
<circle cx="512.8" cy="697.8" r="9.6"/>
<circle cx="514.0" cy="700.8" r="9.6"/>
<circle cx="515.2" cy="703.8" r="9.6"/>
<circle cx="516.4" cy="706.7" r="9.6"/>
<circle cx="517.6" cy="709.7" r="9.6"/>
<circle cx="518.8" cy="712.6" r="9.6"/>
<circle cx="520.0" cy="715.4" r="9.6"/>
<circle cx="521.2" cy="718.2" r="9.6"/>
<circle cx="522.4" cy="720.8" r="9.6"/>
<circle cx="523.6" cy="723.5" r="9.6"/>
<circle cx="524.8" cy="726.0" r="9.6"/>
<circle cx="526.0" cy="728.4" r="9.6"/>
<circle cx="527.2" cy="730.6" r="9.6"/>
<circle cx="528.4" cy="732.7" r="9.6"/>
<circle cx="529.6" cy="734.7" r="9.6"/>
<circle cx="530.8" cy="736.5" r="9.6"/>
<circle cx="532.0" cy="738.0" r="9.6"/>
<circle cx="533.2" cy="739.3" r="9.6"/>
<circle cx="534.4" cy="740.5" r="9.6"/>
<circle cx="535.6" cy="741.4" r="9.6"/>
<circle cx="536.8" cy="742.2" r="9.6"/>
<circle cx="538.0" cy="742.1" r="9.6"/>
<circle cx="539.2" cy="741.3" r="9.6"/>
<circle cx="540.4" cy="740.3" r="9.6"/>
<circle cx="541.6" cy="739.1" r="9.6"/>
<circle cx="542.8" cy="737.7" r="9.6"/>
<circle cx="544.0" cy="736.1" r="9.6"/>
<circle cx="545.2" cy="734.2" r="9.6"/>
<circle cx="546.4" cy="732.2" r="9.6"/>
<circle cx="547.6" cy="730.1" r="9.6"/>
<circle cx="548.8" cy="727.8" r="9.6"/>
<circle cx="550.0" cy="725.3" r="9.6"/>
<circle cx="551.2" cy="722.7" r="9.6"/>
<circle cx="552.4" cy="720.1" r="9.6"/>
<circle cx="553.6" cy="717.4" r="9.6"/>
<circle cx="554.8" cy="714.6" r="9.6"/>
<circle cx="556.0" cy="711.7" r="9.6"/>
<circle cx="557.2" cy="708.7" r="9.6"/>
<circle cx="558.4" cy="705.8" r="9.6"/>
<circle cx="559.6" cy="702.8" r="9.6"/>
<circle cx="560.8" cy="699.8" r="9.6"/>
<circle cx="562.0" cy="696.8" r="9.6"/>
<circle cx="563.2" cy="693.8" r="9.6"/>
<circle cx="564.4" cy="690.7" r="9.6"/>
<circle cx="565.6" cy="687.7" r="9.6"/>
<circle cx="566.8" cy="684.7" r="9.6"/>
<circle cx="568.0" cy="681.7" r="9.6"/>
<circle cx="569.2" cy="678.8" r="9.6"/>
<circle cx="570.4" cy="675.8" r="9.6"/>
<circle cx="571.6" cy="672.9" r="9.6"/>
<circle cx="572.8" cy="670.0" r="9.6"/>
<circle cx="574.0" cy="667.0" r="9.6"/>
<circle cx="575.2" cy="664.1" r="9.6"/>
<circle cx="576.4" cy="661.1" r="9.6"/>
<circle cx="577.6" cy="658.2" r="9.6"/>
<circle cx="578.8" cy="655.2" r="9.6"/>
<circle cx="580.0" cy="652.2" r="9.6"/>
<circle cx="581.2" cy="649.3" r="9.6"/>
<circle cx="582.4" cy="646.4" r="9.6"/>
<circle cx="583.6" cy="643.4" r="9.6"/>
<circle cx="584.8" cy="640.6" r="9.6"/>
<circle cx="586.0" cy="637.7" r="9.6"/>
<circle cx="587.2" cy="634.8" r="9.6"/>
<circle cx="588.4" cy="632.0" r="9.6"/>
<circle cx="589.6" cy="629.1" r="9.6"/>
<circle cx="590.8" cy="626.3" r="9.6"/>
<circle cx="592.0" cy="623.6" r="9.6"/>
<circle cx="593.2" cy="620.9" r="9.6"/>
<circle cx="594.4" cy="618.3" r="9.6"/>
<circle cx="595.6" cy="615.7" r="9.6"/>
<circle cx="596.8" cy="613.2" r="9.6"/>
<circle cx="598.0" cy="610.8" r="9.6"/>
<circle cx="599.2" cy="608.3" r="9.6"/>
<circle cx="600.4" cy="605.9" r="9.6"/>
<circle cx="601.6" cy="603.6" r="9.6"/>
<circle cx="602.8" cy="601.2" r="9.6"/>
<circle cx="604.0" cy="598.8" r="9.6"/>
<circle cx="605.2" cy="596.5" r="9.6"/>
<circle cx="606.4" cy="594.1" r="9.6"/>
<circle cx="607.6" cy="591.7" r="9.6"/>
<circle cx="608.8" cy="589.3" r="9.6"/>
<circle cx="610.0" cy="586.9" r="9.6"/>
<circle cx="611.2" cy="584.5" r="9.6"/>
<circle cx="612.4" cy="582.2" r="9.6"/>
<circle cx="613.6" cy="579.9" r="9.6"/>
<circle cx="614.8" cy="577.6" r="9.6"/>
<circle cx="616.0" cy="575.4" r="9.6"/>
<circle cx="617.2" cy="573.3" r="9.6"/>
<circle cx="618.4" cy="571.3" r="9.6"/>
<circle cx="619.6" cy="569.2" r="9.6"/>
<circle cx="620.8" cy="567.2" r="9.6"/>
<circle cx="622.0" cy="565.1" r="9.6"/>
<circle cx="623.2" cy="563.2" r="9.6"/>
<circle cx="624.4" cy="561.2" r="9.6"/>
<circle cx="625.6" cy="559.4" r="9.6"/>
<circle cx="626.8" cy="557.8" r="9.6"/>
<circle cx="628.0" cy="556.2" r="9.6"/>
<circle cx="629.2" cy="554.9" r="9.6"/>
<circle cx="630.4" cy="553.7" r="9.6"/>
<circle cx="631.6" cy="552.6" r="9.6"/>
<circle cx="632.8" cy="551.6" r="9.6"/>
<circle cx="634.0" cy="550.7" r="9.6"/>
<circle cx="635.2" cy="549.8" r="9.6"/>
<circle cx="636.4" cy="549.0" r="9.6"/>
<circle cx="637.6" cy="548.4" r="9.6"/>
<circle cx="638.8" cy="547.9" r="9.6"/>
<circle cx="640.0" cy="547.5" r="9.6"/>
<circle cx="641.2" cy="547.2" r="9.6"/>
<circle cx="642.4" cy="546.8" r="9.6"/>
<circle cx="643.6" cy="546.5" r="9.6"/>
<circle cx="644.8" cy="546.3" r="9.6"/>
<circle cx="646.0" cy="546.1" r="9.6"/>
<circle cx="647.2" cy="546.0" r="9.6"/>
<circle cx="648.4" cy="546.0" r="9.6"/>
<circle cx="649.6" cy="546.1" r="9.6"/>
<circle cx="650.8" cy="546.3" r="9.6"/>
<circle cx="652.0" cy="546.5" r="9.6"/>
<circle cx="653.2" cy="546.8" r="9.6"/>
<circle cx="654.4" cy="547.1" r="9.6"/>
<circle cx="655.6" cy="547.5" r="9.6"/>
<circle cx="656.8" cy="547.9" r="9.6"/>
<circle cx="658.0" cy="548.4" r="9.6"/>
<circle cx="659.2" cy="549.1" r="9.6"/>
<circle cx="660.4" cy="549.9" r="9.6"/>
<circle cx="661.6" cy="550.9" r="9.6"/>
<circle cx="662.8" cy="551.9" r="9.6"/>
<circle cx="664.0" cy="553.0" r="9.6"/>
<circle cx="665.2" cy="554.2" r="9.6"/>
<circle cx="666.4" cy="555.4" r="9.6"/>
<circle cx="667.6" cy="556.9" r="9.6"/>
<circle cx="668.8" cy="558.6" r="9.6"/>
<circle cx="670.0" cy="560.4" r="9.6"/>
<circle cx="671.2" cy="562.4" r="9.6"/>
<circle cx="672.4" cy="564.5" r="9.6"/>
<circle cx="673.6" cy="566.6" r="9.6"/>
<circle cx="674.8" cy="568.8" r="9.6"/>
<circle cx="676.0" cy="570.9" r="9.6"/>
<circle cx="677.2" cy="573.1" r="9.6"/>
<circle cx="678.4" cy="575.3" r="9.6"/>
<circle cx="679.6" cy="577.6" r="9.6"/>
<circle cx="680.8" cy="579.9" r="9.6"/>
<circle cx="682.0" cy="582.4" r="9.6"/>
<circle cx="683.2" cy="584.8" r="9.6"/>
<circle cx="684.4" cy="587.3" r="9.6"/>
<circle cx="685.6" cy="589.9" r="9.6"/>
<circle cx="686.8" cy="592.4" r="9.6"/>
<circle cx="688.0" cy="594.9" r="9.6"/>
<circle cx="689.2" cy="597.4" r="9.6"/>
<circle cx="690.4" cy="599.9" r="9.6"/>
<circle cx="691.6" cy="602.4" r="9.6"/>
<circle cx="692.8" cy="604.9" r="9.6"/>
<circle cx="694.0" cy="607.4" r="9.6"/>
<circle cx="695.2" cy="610.0" r="9.6"/>
<circle cx="696.4" cy="612.6" r="9.6"/>
<circle cx="697.6" cy="615.2" r="9.6"/>
<circle cx="698.8" cy="617.8" r="9.6"/>
<circle cx="700.0" cy="620.6" r="9.6"/>
<circle cx="701.2" cy="623.4" r="9.6"/>
<circle cx="702.4" cy="626.3" r="9.6"/>
<circle cx="703.6" cy="629.2" r="9.6"/>
<circle cx="704.8" cy="632.2" r="9.6"/>
<circle cx="706.0" cy="635.2" r="9.6"/>
<circle cx="707.2" cy="638.2" r="9.6"/>
<circle cx="708.4" cy="641.2" r="9.6"/>
<circle cx="709.6" cy="644.3" r="9.6"/>
<circle cx="710.8" cy="647.3" r="9.6"/>
<circle cx="712.0" cy="650.4" r="9.6"/>
<circle cx="713.2" cy="653.5" r="9.6"/>
<circle cx="714.4" cy="656.7" r="9.6"/>
<circle cx="715.6" cy="659.8" r="9.6"/>
<circle cx="716.8" cy="662.9" r="9.6"/>
<circle cx="718.0" cy="666.0" r="9.6"/>
<circle cx="719.2" cy="669.1" r="9.6"/>
<circle cx="720.4" cy="672.2" r="9.6"/>
<circle cx="721.6" cy="675.3" r="9.6"/>
<circle cx="722.8" cy="678.4" r="9.6"/>
<circle cx="724.0" cy="681.6" r="9.6"/>
<circle cx="725.2" cy="684.7" r="9.6"/>
<circle cx="726.4" cy="687.8" r="9.6"/>
<circle cx="727.6" cy="691.0" r="9.6"/>
<circle cx="728.8" cy="694.2" r="9.6"/>
<circle cx="730.0" cy="697.4" r="9.6"/>
<circle cx="731.2" cy="700.6" r="9.6"/>
<circle cx="732.4" cy="703.8" r="9.6"/>
<circle cx="733.6" cy="706.9" r="9.6"/>
<circle cx="734.8" cy="710.0" r="9.6"/>
<circle cx="736.0" cy="713.1" r="9.6"/>
<circle cx="737.2" cy="716.2" r="9.6"/>
<circle cx="738.4" cy="719.1" r="9.6"/>
<circle cx="739.6" cy="722.0" r="9.6"/>
<circle cx="740.8" cy="724.8" r="9.6"/>
<circle cx="742.0" cy="727.5" r="9.6"/>
<circle cx="743.2" cy="730.1" r="9.6"/>
<circle cx="744.4" cy="732.5" r="9.6"/>
<circle cx="745.6" cy="734.7" r="9.6"/>
<circle cx="746.8" cy="736.7" r="9.6"/>
<circle cx="748.0" cy="738.6" r="9.6"/>
<circle cx="749.2" cy="740.3" r="9.6"/>
<circle cx="750.4" cy="741.6" r="9.6"/>
<circle cx="751.6" cy="742.8" r="9.6"/>
<circle cx="752.8" cy="743.7" r="9.6"/>
<circle cx="776.3" cy="727.5" r="8.6"/>
<circle cx="778.9" cy="714.5" r="8.6"/>
<circle cx="782.0" cy="698.8" r="8.6"/>
<circle cx="785.4" cy="681.8" r="8.6"/>
<circle cx="788.5" cy="666.0" r="8.6"/>
<circle cx="792.0" cy="649.8" r="8.6"/>
<circle cx="795.4" cy="632.0" r="8.6"/>
<circle cx="798.0" cy="617.6" r="8.6"/>
<circle cx="801.6" cy="603.3" r="8.6"/>
<circle cx="805.0" cy="591.5" r="8.6"/>
<circle cx="755.5" cy="744.9" r="9.6"/>
<circle cx="757.0" cy="745.2" r="9.6"/>
<circle cx="758.5" cy="745.4" r="9.6"/>
<circle cx="760.0" cy="745.5" r="9.6"/>
<circle cx="761.5" cy="745.4" r="9.6"/>
<circle cx="763.0" cy="745.2" r="9.6"/>
<circle cx="764.5" cy="744.8" r="9.6"/>
<circle cx="766.0" cy="744.2" r="9.6"/>
<circle cx="767.5" cy="743.3" r="9.6"/>
<circle cx="769.0" cy="742.0" r="9.6"/>
<circle cx="770.3" cy="740.5" r="9.6"/>
<circle cx="771.5" cy="739.0" r="9.6"/>
<circle cx="772.8" cy="736.8" r="9.6"/>
<circle cx="774.0" cy="734.0" r="9.6"/>
<circle cx="808.0" cy="585.0" r="9.6"/>
<circle cx="811.6" cy="579.7" r="9.6"/>
<circle cx="815.0" cy="574.0" r="9.6"/>
<circle cx="819.4" cy="569.2" r="9.6"/>
<circle cx="823.0" cy="564.5" r="9.6"/>
<circle cx="827.3" cy="560.1" r="9.6"/>
<circle cx="831.0" cy="557.5" r="9.6"/>
<circle cx="835.0" cy="555.8" r="9.6"/>
<circle cx="840.4" cy="555.0" r="9.6"/>
<circle cx="841.6" cy="555.1" r="9.6"/>
<circle cx="842.8" cy="555.4" r="9.6"/>
<circle cx="844.0" cy="555.7" r="9.6"/>
<circle cx="845.2" cy="556.0" r="9.6"/>
<circle cx="846.4" cy="556.4" r="9.6"/>
<circle cx="847.6" cy="556.8" r="9.6"/>
<circle cx="848.8" cy="557.3" r="9.6"/>
<circle cx="850.0" cy="558.0" r="9.6"/>
<circle cx="851.2" cy="558.8" r="9.6"/>
<circle cx="852.4" cy="559.8" r="9.6"/>
<circle cx="853.6" cy="560.8" r="9.6"/>
<circle cx="854.8" cy="561.9" r="9.6"/>
<circle cx="856.0" cy="563.1" r="9.6"/>
<circle cx="857.2" cy="564.4" r="9.6"/>
<circle cx="858.4" cy="565.9" r="9.6"/>
<circle cx="859.6" cy="567.6" r="9.6"/>
<circle cx="860.8" cy="569.4" r="9.6"/>
<circle cx="862.0" cy="571.3" r="9.6"/>
<circle cx="863.2" cy="573.4" r="9.6"/>
<circle cx="864.4" cy="575.5" r="9.6"/>
<circle cx="865.6" cy="577.6" r="9.6"/>
<circle cx="866.8" cy="579.7" r="9.6"/>
<circle cx="868.0" cy="581.7" r="9.6"/>
<circle cx="869.2" cy="583.9" r="9.6"/>
<circle cx="870.4" cy="586.1" r="9.6"/>
<circle cx="871.6" cy="588.3" r="9.6"/>
<circle cx="872.8" cy="590.7" r="9.6"/>
<circle cx="874.0" cy="593.0" r="9.6"/>
<circle cx="875.2" cy="595.4" r="9.6"/>
<circle cx="876.4" cy="597.8" r="9.6"/>
<circle cx="877.6" cy="600.2" r="9.6"/>
<circle cx="878.8" cy="602.5" r="9.6"/>
<circle cx="880.0" cy="604.9" r="9.6"/>
<circle cx="881.2" cy="607.2" r="9.6"/>
<circle cx="882.4" cy="609.5" r="9.6"/>
<circle cx="883.6" cy="611.8" r="9.6"/>
<circle cx="884.8" cy="614.2" r="9.6"/>
<circle cx="886.0" cy="616.5" r="9.6"/>
<circle cx="887.2" cy="618.8" r="9.6"/>
<circle cx="888.4" cy="621.2" r="9.6"/>
<circle cx="889.6" cy="623.6" r="9.6"/>
<circle cx="890.8" cy="626.0" r="9.6"/>
<circle cx="892.0" cy="628.5" r="9.6"/>
<circle cx="893.2" cy="631.0" r="9.6"/>
<circle cx="894.4" cy="633.6" r="9.6"/>
<circle cx="895.6" cy="636.2" r="9.6"/>
<circle cx="896.8" cy="638.9" r="9.6"/>
<circle cx="898.0" cy="641.6" r="9.6"/>
<circle cx="899.2" cy="644.2" r="9.6"/>
<circle cx="900.4" cy="646.9" r="9.6"/>
<circle cx="901.6" cy="649.6" r="9.6"/>
<circle cx="902.8" cy="652.2" r="9.6"/>
<circle cx="904.0" cy="654.9" r="9.6"/>
<circle cx="905.2" cy="657.6" r="9.6"/>
<circle cx="906.4" cy="660.3" r="9.6"/>
<circle cx="907.6" cy="663.0" r="9.6"/>
<circle cx="908.8" cy="665.7" r="9.6"/>
<circle cx="910.0" cy="668.4" r="9.6"/>
<circle cx="911.2" cy="671.1" r="9.6"/>
<circle cx="912.4" cy="673.7" r="9.6"/>
<circle cx="913.6" cy="676.3" r="9.6"/>
<circle cx="914.8" cy="679.0" r="9.6"/>
<circle cx="916.0" cy="681.6" r="9.6"/>
<circle cx="917.2" cy="684.2" r="9.6"/>
<circle cx="918.4" cy="686.8" r="9.6"/>
<circle cx="919.6" cy="689.4" r="9.6"/>
<circle cx="920.8" cy="692.0" r="9.6"/>
<circle cx="922.0" cy="694.6" r="9.6"/>
<circle cx="923.2" cy="697.2" r="9.6"/>
<circle cx="924.4" cy="699.8" r="9.6"/>
<circle cx="925.6" cy="702.4" r="9.6"/>
<circle cx="926.8" cy="705.1" r="9.6"/>
<circle cx="928.0" cy="707.6" r="9.6"/>
<circle cx="929.2" cy="710.2" r="9.6"/>
<circle cx="930.4" cy="712.7" r="9.6"/>
<circle cx="931.6" cy="715.2" r="9.6"/>
<circle cx="932.8" cy="717.7" r="9.6"/>
<circle cx="934.0" cy="720.1" r="9.6"/>
<circle cx="935.2" cy="722.5" r="9.6"/>
<circle cx="936.4" cy="724.9" r="9.6"/>
<circle cx="937.6" cy="727.1" r="9.6"/>
<circle cx="938.8" cy="729.3" r="9.6"/>
<circle cx="940.0" cy="731.5" r="9.6"/>
<circle cx="941.2" cy="733.6" r="9.6"/>
<circle cx="942.4" cy="735.6" r="9.6"/>
<circle cx="943.6" cy="737.4" r="9.6"/>
<circle cx="944.8" cy="739.1" r="9.6"/>
<circle cx="946.0" cy="740.8" r="9.6"/>
<circle cx="947.2" cy="742.3" r="9.6"/>
<circle cx="948.4" cy="743.8" r="9.6"/>
<circle cx="949.6" cy="745.1" r="9.6"/>
<circle cx="950.8" cy="746.2" r="9.6"/>
<circle cx="952.0" cy="747.1" r="9.6"/>
<circle cx="953.2" cy="747.9" r="9.6"/>
<circle cx="954.4" cy="748.7" r="9.6"/>
<circle cx="955.6" cy="749.3" r="9.6"/>
<circle cx="956.8" cy="749.8" r="9.6"/>
<circle cx="958.0" cy="749.8" r="9.6"/>
<circle cx="959.2" cy="749.1" r="9.6"/>
<circle cx="960.4" cy="748.3" r="9.6"/>
<circle cx="961.6" cy="747.4" r="9.6"/>
<circle cx="962.8" cy="746.3" r="9.6"/>
<circle cx="964.0" cy="745.0" r="9.6"/>
<circle cx="965.2" cy="743.5" r="9.6"/>
<circle cx="966.4" cy="741.9" r="9.6"/>
<circle cx="967.6" cy="740.1" r="9.6"/>
<circle cx="968.8" cy="738.3" r="9.6"/>
<circle cx="970.0" cy="736.4" r="9.6"/>
<circle cx="971.2" cy="734.2" r="9.6"/>
<circle cx="972.4" cy="732.0" r="9.6"/>
<circle cx="973.6" cy="729.7" r="9.6"/>
<circle cx="974.8" cy="727.3" r="9.6"/>
<circle cx="976.0" cy="724.9" r="9.6"/>
<circle cx="977.2" cy="722.5" r="9.6"/>
<circle cx="978.4" cy="719.9" r="9.6"/>
<circle cx="979.6" cy="717.4" r="9.6"/>
<circle cx="980.8" cy="714.8" r="9.6"/>
<circle cx="982.0" cy="712.2" r="9.6"/>
<circle cx="983.2" cy="709.6" r="9.6"/>
<circle cx="984.4" cy="706.9" r="9.6"/>
<circle cx="985.6" cy="704.3" r="9.6"/>
<circle cx="986.8" cy="701.6" r="9.6"/>
<circle cx="988.0" cy="699.0" r="9.6"/>
<circle cx="989.2" cy="696.3" r="9.6"/>
<circle cx="990.4" cy="693.7" r="9.6"/>
<circle cx="991.6" cy="691.1" r="9.6"/>
<circle cx="992.8" cy="688.5" r="9.6"/>
<circle cx="994.0" cy="686.0" r="9.6"/>
<circle cx="995.2" cy="683.4" r="9.6"/>
<circle cx="996.4" cy="680.8" r="9.6"/>
<circle cx="997.6" cy="678.3" r="9.6"/>
<circle cx="998.8" cy="675.7" r="9.6"/>
<circle cx="1000.0" cy="673.1" r="9.6"/>
<circle cx="1001.2" cy="670.5" r="9.6"/>
<circle cx="1002.4" cy="667.9" r="9.6"/>
<circle cx="1003.6" cy="665.3" r="9.6"/>
<circle cx="1004.8" cy="662.8" r="9.6"/>
<circle cx="1006.0" cy="660.2" r="9.6"/>
<circle cx="1007.2" cy="657.6" r="9.6"/>
<circle cx="1008.4" cy="655.1" r="9.6"/>
</g>
<line x1="199" y1="560" x2="199" y2="501" stroke="#777" stroke-opacity="0.45" stroke-width="7" stroke-dasharray="17.6 6" filter="url(#sh)" transform="translate(0.5,1.5)"/>
<line x1="199" y1="560" x2="199" y2="501" stroke="#a3a3a3" stroke-width="6" stroke-dasharray="17.6 6"/>
<line x1="424" y1="560" x2="424" y2="501" stroke="#777" stroke-opacity="0.45" stroke-width="7" stroke-dasharray="17.6 6" filter="url(#sh)" transform="translate(0.5,1.5)"/>
<line x1="424" y1="560" x2="424" y2="501" stroke="#a3a3a3" stroke-width="6" stroke-dasharray="17.6 6"/>
<line x1="506" y1="536" x2="683" y2="536" stroke="#777" stroke-opacity="0.45" stroke-width="7" stroke-dasharray="17.5 6.5" filter="url(#sh)" transform="translate(0.5,1.5)"/>
<line x1="506" y1="536" x2="683" y2="536" stroke="#a3a3a3" stroke-width="6" stroke-dasharray="17.5 6.5"/>
<line x1="506" y1="754" x2="683" y2="754" stroke="#777" stroke-opacity="0.45" stroke-width="7" stroke-dasharray="17.5 6.5" filter="url(#sh)" transform="translate(0.5,1.5)"/>
<line x1="506" y1="754" x2="683" y2="754" stroke="#a3a3a3" stroke-width="6" stroke-dasharray="17.5 6.5"/>
<line x1="216" y1="525.8" x2="407.5" y2="525.8" stroke="#555" stroke-opacity="0.5" stroke-width="4" filter="url(#sh2)" transform="translate(0.5,2.5)"/>
<line x1="216" y1="525.8" x2="407.5" y2="525.8" stroke="#000" stroke-width="3.8"/>
<path d="M202 525.8 l18 -6.8 l-2 6.8 l2 6.8 z" fill="#000"/>
<path d="M421.5 525.8 l-18 -6.8 l2 6.8 l-2 6.8 z" fill="#000"/>
<line x1="648.2" y1="552.5" x2="648.2" y2="737" stroke="#555" stroke-opacity="0.5" stroke-width="4" filter="url(#sh3)" transform="translate(2,1)"/>
<line x1="648.2" y1="552.5" x2="648.2" y2="737" stroke="#000" stroke-width="3.8"/>
<path d="M648.2 536.5 l-6.7 20 l6.7 -2 l6.7 2 z" fill="#000"/>
<path d="M648.2 753 l-6.7 -20 l6.7 2 l6.7 -2 z" fill="#000"/>
<rect x="275" y="506" width="78" height="42" fill="#fff" fill-opacity="0.8"/>
<rect x="612" y="623.5" width="66" height="54.5" fill="#fff" fill-opacity="0.8"/>
<text x="284.2" y="543.2" font-size="42"><tspan class="s" font-size="43">Δ</tspan><tspan class="bi" dx="1.3">B</tspan></text>
<text x="615.3" y="667.2" font-size="42"><tspan class="s" font-size="43">Δ</tspan><tspan class="bi" dx="1">I</tspan><tspan class="bi" font-size="28" dy="8.5" dx="-0.9">C</tspan></text>
<rect x="746.5" y="271.5" width="241.5" height="60" fill="#fff" stroke="#000" stroke-width="3.3"/>
<text x="867.3" y="319.3" font-size="46" class="b" text-anchor="middle">T=300 mK</text>
<rect x="747.5" y="485.3" width="242" height="55.5" fill="#fff" stroke="#000" stroke-width="3.3"/>
<text x="868" y="532.6" font-size="46" class="b" text-anchor="middle">T=80 K</text>
<path d="M763 0H583V1147Q518 1085 412.5 1023T223 930V1104Q373 1174.5 485.5 1275T645 1470H763Z" transform="translate(141.76,141.5) scale(0.01974,-0.01880)" fill="#000"/>
<text x="142.297" y="142.5" font-size="38.5" text-anchor="end">-</text>
<text x="366.5" y="141.5" font-size="38.5" text-anchor="middle">0.5</text>
<text x="339.743" y="142.5" font-size="38.5" text-anchor="end">-</text>
<text x="580" y="141.5" font-size="38.5" text-anchor="middle">0</text>
<text x="794" y="141.5" font-size="38.5" text-anchor="middle">0.5</text>
<path d="M763 0H583V1147Q518 1085 412.5 1023T223 930V1104Q373 1174.5 485.5 1275T645 1470H763Z" transform="translate(996.76,141.5) scale(0.01974,-0.01880)" fill="#000"/>
<text x="154" y="818.5" font-size="38.5" text-anchor="middle">2</text>
<text x="143.297" y="819.5" font-size="38.5" text-anchor="end">-</text>
<path d="M763 0H583V1147Q518 1085 412.5 1023T223 930V1104Q373 1174.5 485.5 1275T645 1470H763Z" transform="translate(355.76,818.5) scale(0.01974,-0.01880)" fill="#000"/>
<text x="356.297" y="819.5" font-size="38.5" text-anchor="end">-</text>
<text x="581" y="818.5" font-size="38.5" text-anchor="middle">0</text>
<path d="M763 0H583V1147Q518 1085 412.5 1023T223 930V1104Q373 1174.5 485.5 1275T645 1470H763Z" transform="translate(783.26,818.5) scale(0.01974,-0.01880)" fill="#000"/>
<text x="1008.5" y="818.5" font-size="38.5" text-anchor="middle">2</text>
<text x="148.5" y="190.4" font-size="38.5" text-anchor="end">4.2</text>
<text x="148.5" y="284.4" font-size="38.5" text-anchor="end">4.0</text>
<text x="148.5" y="354" font-size="38.5" text-anchor="end">-4.0</text>
<text x="148.5" y="449.4" font-size="38.5" text-anchor="end">-4.2</text>
<text x="148.5" y="504.4" font-size="38.5" text-anchor="end">52</text>
<text x="148.5" y="595.9" font-size="38.5" text-anchor="end">47</text>
<text x="148.5" y="685.9" font-size="38.5" text-anchor="end">42</text>
<text x="148.5" y="777.4" font-size="38.5" text-anchor="end">37</text>
<path d="M144.5 302.6 c1.5 -7.5 7 -9 11.5 -4.2 c4.5 5.2 9.2 4.4 10.6 -3.8 M144.5 314.6 c1.5 -7.5 7 -9 11.5 -4.2 c4.5 5.2 9.2 4.4 10.6 -3.8" fill="none" stroke="#000" stroke-width="3.2" stroke-linecap="butt"/>
<text transform="translate(579.5,90.7) scale(1,1.035)" font-size="45" class="b" text-anchor="middle">B (mT)</text>
<text transform="translate(522.6,864.8) scale(1.045,1)" font-size="52" class="s">Φ</text><text x="560.7" y="864.8" font-size="50" class="b">/</text><text transform="translate(574.8,864.8) scale(1.045,1)" font-size="52" class="s">Φ</text><text x="614" y="888.1" font-size="41" class="b">0</text>
<g transform="translate(55.7,383) rotate(-90) scale(1,1.03)" font-size="47.2" class="b"><text x="-3" y="0">I</text><text x="11.7" y="21.6" font-size="35.5">C</text><text x="64.7" y="0">mA</text></g>
<g transform="translate(55.7,383) rotate(-90)" font-size="46" class="b"><text x="49.2" y="0">(</text><text x="143.5" y="0">)</text></g>
<g transform="translate(55.5,697.2) rotate(-90) scale(1,1.035)" font-size="47.2" class="b"><text x="-3" y="0">I</text><text x="10.6" y="21.6" font-size="35.5">C</text><text transform="translate(65.6,0) scale(1.2,1)" class="s" font-size="45" font-weight="normal">μ</text><text x="91.4" y="0">A</text></g>
<g transform="translate(55.5,697.2) rotate(-90)" font-size="46" class="b"><text x="50" y="0">(</text><text x="128.2" y="0">)</text></g>
</svg></body></html>
